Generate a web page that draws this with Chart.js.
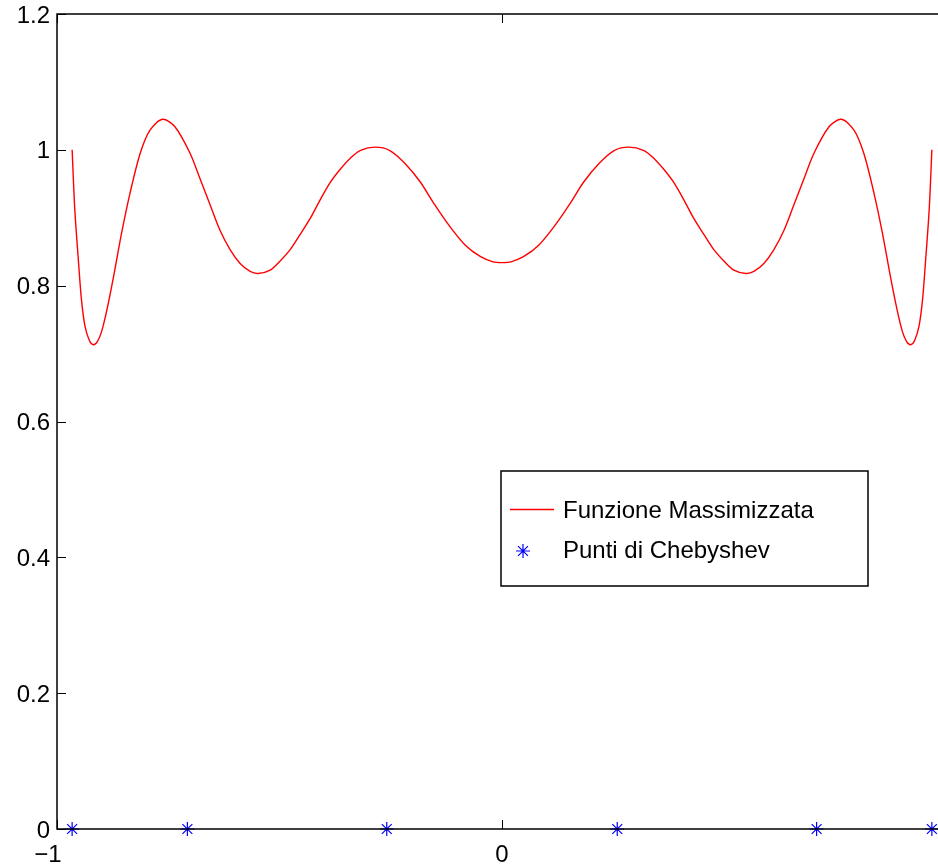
<!DOCTYPE html>
<html>
<head>
<meta charset="utf-8">
<script src="https://cdn.jsdelivr.net/npm/chart.js@4/dist/chart.umd.min.js"></script>
<style>
  html, body { margin: 0; padding: 0; background: #fff; overflow: hidden; }
  #wrap { width: 960px; height: 866px; }
</style>
</head>
<body>
<div id="wrap"><canvas id="chart"></canvas></div>
<script>
// values
const curveX = [-0.966, -0.960, -0.952, -0.945, -0.937, -0.927, -0.918, -0.909, -0.900, -0.888,
  -0.873, -0.855, -0.836, -0.813, -0.791, -0.763, -0.735, -0.701, -0.679, -0.656,
  -0.634, -0.611, -0.589, -0.566, -0.548, -0.521, -0.499, -0.476, -0.454, -0.431,
  -0.409, -0.387, -0.364, -0.342, -0.319, -0.285, -0.252, -0.218, -0.184, -0.151,
  -0.117, -0.083, -0.049, -0.020, 0,
  0.020, 0.049, 0.083, 0.117, 0.151, 0.184, 0.218, 0.252, 0.285, 0.319, 0.342,
  0.364, 0.387, 0.409, 0.431, 0.454, 0.476, 0.499, 0.521, 0.548, 0.566, 0.589,
  0.611, 0.634, 0.656, 0.679, 0.701, 0.735, 0.763, 0.791, 0.813, 0.836, 0.855,
  0.873, 0.888, 0.900, 0.909, 0.918, 0.927, 0.937, 0.945, 0.952, 0.960, 0.966];
const curveY = [1.000, 0.912, 0.838, 0.779, 0.740, 0.719, 0.713, 0.718, 0.732, 0.764,
  0.813, 0.877, 0.936, 0.995, 1.029, 1.045, 1.034, 0.995, 0.958, 0.919,
  0.882, 0.853, 0.833, 0.821, 0.818, 0.823, 0.836, 0.853, 0.875, 0.899,
  0.926, 0.951, 0.971, 0.987, 0.999, 1.004, 0.999, 0.980, 0.953, 0.919,
  0.887, 0.860, 0.843, 0.835, 0.834,
  0.835, 0.843, 0.860, 0.887, 0.919, 0.953, 0.980, 0.999, 1.004, 0.999, 0.987,
  0.971, 0.951, 0.926, 0.899, 0.875, 0.853, 0.836, 0.823, 0.818, 0.821, 0.833,
  0.853, 0.882, 0.919, 0.958, 0.995, 1.034, 1.045, 1.029, 0.995, 0.936, 0.877,
  0.813, 0.764, 0.732, 0.718, 0.713, 0.719, 0.740, 0.779, 0.838, 0.912, 1.000];

const nodesX = [-0.966, -0.707, -0.259, 0.259, 0.707, 0.966];
const nodesY = [0, 0, 0, 0, 0, 0];

const seriesNames = ['Funzione Massimizzata', 'Punti di Chebyshev'];
const yTicks = [0, 0.2, 0.4, 0.6, 0.8, 1, 1.2];
const xTicks = [-1, 0, 1];

const FONT = '"Liberation Sans", Arial, Helvetica, sans-serif';
const RED = '#ff0000', BLUE = '#0000ff';

const fmtX = v => v < 0 ? '\u2212' + Math.abs(v) : String(v);

// inward ticks, box, x labels and legend drawn like the original figure
const frame = {
  id: 'frame',
  afterDraw(chart) {
    const c = chart.ctx, a = chart.chartArea;
    const xs = chart.scales.x, ys = chart.scales.y;
    c.save();
    c.strokeStyle = '#000';
    c.lineWidth = 1.5;
    c.strokeRect(a.left, a.top, a.right - a.left, a.bottom - a.top);
    c.lineWidth = 1;
    c.beginPath();
    ys.ticks.forEach(t => {
      const y = Math.round(ys.getPixelForValue(t.value)) + 0.5;
      c.moveTo(a.left, y); c.lineTo(a.left + 9, y);
      c.moveTo(a.right, y); c.lineTo(a.right - 9, y);
    });
    xs.ticks.forEach(t => {
      const x = Math.round(xs.getPixelForValue(t.value)) + 0.5;
      c.moveTo(x, a.bottom); c.lineTo(x, a.bottom - 9);
      c.moveTo(x, a.top); c.lineTo(x, a.top + 9);
    });
    c.stroke();

    c.font = '24px ' + FONT;
    c.fillStyle = '#000';
    c.textAlign = 'center';
    c.textBaseline = 'alphabetic';
    xs.ticks.forEach(t => {
      const x = xs.getPixelForValue(t.value) - (t.value < 0 ? 9 : 0);
      c.fillText(fmtX(t.value), x, 862);
    });

    // legend box
    const lx = 501, ly = 471, lw = 367, lh = 115;
    c.fillStyle = '#fff';
    c.fillRect(lx, ly, lw, lh);
    c.strokeStyle = '#000';
    c.lineWidth = 1.5;
    c.strokeRect(lx, ly, lw, lh);
    c.textAlign = 'left';
    c.textBaseline = 'middle';
    c.fillStyle = '#000';
    c.fillText(seriesNames[0], 563, 511);
    c.fillText(seriesNames[1], 563, 551);
    c.strokeStyle = RED;
    c.lineWidth = 1.3;
    c.beginPath();
    c.moveTo(510, 509.5); c.lineTo(554, 509.5);
    c.stroke();
    c.strokeStyle = BLUE;
    c.fillStyle = BLUE;
    c.lineWidth = 1.2;
    Chart.helpers.drawPoint(c, { pointStyle: 'star', radius: 7, borderWidth: 1.2 }, 523, 551);
    c.restore();
  }
};

new Chart(document.getElementById('chart'), {
  type: 'scatter',
  data: {
    datasets: [
      {
        label: seriesNames[0],
        data: curveX.map((x, i) => ({ x, y: curveY[i] })),
        showLine: true,
        borderColor: RED,
        borderWidth: 1.4,
        pointRadius: 0,
        tension: 0.3,
      },
      {
        label: seriesNames[1],
        data: nodesX.map((x, i) => ({ x, y: nodesY[i] })),
        showLine: false,
        pointStyle: 'star',
        pointRadius: 7,
        borderColor: BLUE,
        backgroundColor: BLUE,
        pointBorderWidth: 1.2,
        clip: false,
      },
    ],
  },
  options: {
    responsive: true,
    maintainAspectRatio: false,
    animation: false,
    layout: { padding: { left: 0, top: 14, right: 13, bottom: 0 } },
    plugins: { legend: { display: false }, tooltip: { enabled: false } },
    scales: {
      x: {
        type: 'linear',
        min: -1, max: 1,
        afterBuildTicks: s => { s.ticks = xTicks.map(v => ({ value: v })); },
        afterFit: s => { s.height = 37; s.paddingLeft = 0; s.paddingRight = 0; },
        grid: { display: false, drawTicks: false },
        border: { display: false },
        ticks: { display: false },
      },
      y: {
        type: 'linear',
        min: 0, max: 1.2,
        afterBuildTicks: s => { s.ticks = yTicks.map(v => ({ value: v })); },
        afterFit: s => { s.width = 57; s.paddingTop = 0; s.paddingBottom = 0; },
        grid: { display: false, drawTicks: false },
        border: { display: false },
        ticks: {
          color: '#000',
          font: { family: FONT, size: 24 },
          padding: 7,
          labelOffset: 2,
          autoSkip: false,
          callback: v => String(+v.toFixed(1)),
        },
      },
    },
  },
  plugins: [frame],
});
</script>
</body>
</html>
